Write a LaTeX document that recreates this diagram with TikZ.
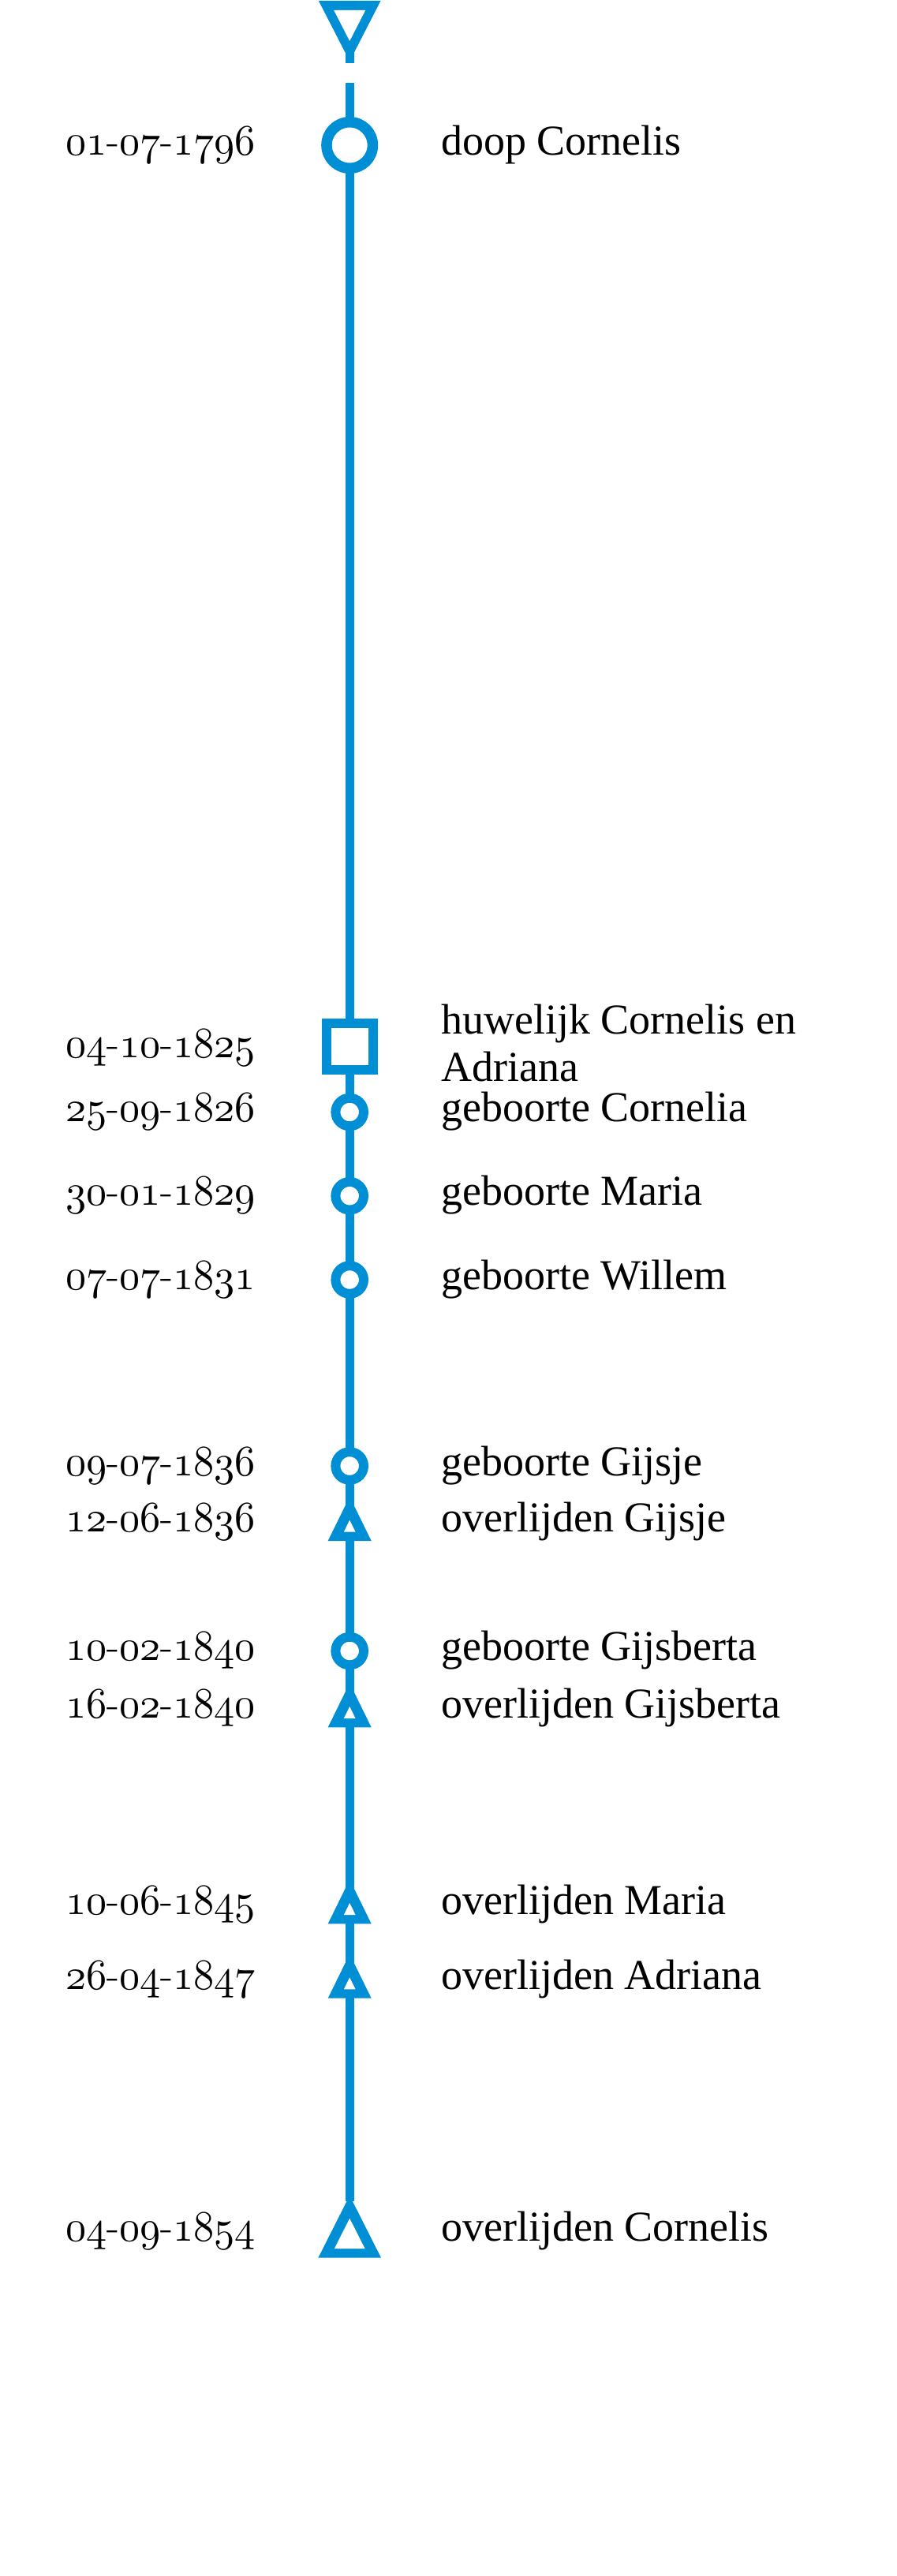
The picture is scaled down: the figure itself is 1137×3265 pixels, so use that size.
\documentclass[tikz,border=0pt]{standalone}
\usepackage{fontspec}
\usetikzlibrary{calc}
\newfontfamily\labelfont{Liberation Serif}
\definecolor{tlblue}{HTML}{008FD5}
\font\osfont=cmmi10 at 55pt
\newcommand\os[1]{{\osfont #1}}
\newcommand\dtxt[3]{\scalebox{0.95}[1]{\os{#1}-\os{#2}-\os{#3}}}
\tikzset{
  tl/.style={draw=tlblue, line width=11.3pt},
  bigdot/.style={draw=tlblue, fill=white, line width=13.5pt},
  smalldot/.style={draw=tlblue, fill=white, line width=12pt},
  lbl/.style={anchor=base west, inner sep=0pt, font=\labelfont\fontsize{54}{60}\selectfont},
  dat/.style={anchor=base east, inner sep=0pt, font=\fontsize{55}{64}\selectfont},
  uptri/.pic={
    \fill[tlblue] (-27.5,0) -- (27.5,0) -- (0,-56) -- cycle;
    \fill[white] (-7.4,-11.3) -- (7.4,-11.3) -- (0,-26.3) -- cycle;
  },
  bigtri/.pic={
    \fill[tlblue] (-39.85,0) -- (39.85,0) -- (0,-78.9) -- cycle;
    \fill[white] (-19.35,-11.7) -- (19.35,-11.7) -- (0,-50) -- cycle;
  },
  downtri/.pic={
    \fill[tlblue] (-39.3,0) -- (39.3,0) -- (0,76.6) -- cycle;
    \fill[white] (-20,12) -- (20,12) -- (0,51) -- cycle;
  }
}
\begin{document}
\begin{tikzpicture}[x=1pt,y=-1pt]
\useasboundingbox (0,0) rectangle (1137,3265);
% event positions
\coordinate (top) at (443.2,1);
\coordinate (stemend) at (443.2,80);
\coordinate (start) at (443.2,105);
\coordinate (e1) at (443.2,184);
\coordinate (e2) at (443.2,1326.3);
\coordinate (e3) at (443.2,1409.5);
\coordinate (e4) at (443.2,1515.7);
\coordinate (e5) at (443.2,1622);
\coordinate (e6) at (443.2,1858);
\coordinate (e7) at (443.2,1953);
\coordinate (e8) at (443.2,2092.5);
\coordinate (e9) at (443.2,2189.3);
\coordinate (e10) at (443.2,2438.3);
\coordinate (e11) at (443.2,2532.7);
\coordinate (e12) at (443.2,2861.7);
\coordinate (e12apex) at (443.2,2790);
% connectors
\draw[tl] (top) -- (stemend);
\draw[tl] (start) -- (e1) -- (e2) -- (e3) -- (e4) -- (e5) -- (e6) -- (e7) -- (e8) -- (e9) -- (e10) -- (e11) -- (e12apex);
% symbols
\pic at (top) {downtri};
\draw[bigdot] (e1) circle (29.25);
\draw[tlblue, fill=white, line width=12.2pt] ($(e2)+(-29.4,-29.4)$) rectangle ($(e2)+(29.4,29.4)$);
\draw[smalldot] (e3) circle (17.8);
\draw[smalldot] (e4) circle (17.8);
\draw[smalldot] (e5) circle (17.8);
\draw[smalldot] (e6) circle (17.8);
\pic at (e7) {uptri};
\draw[smalldot] (e8) circle (17.8);
\pic at (e9) {uptri};
\pic at (e10) {uptri};
\pic at (e11) {uptri};
\pic at (e12) {bigtri};
% dates
\node[dat] (d1) at (324,196.7) {\dtxt{01}{07}{1796}};
\node[dat] (d2) at (324,1340) {\dtxt{04}{10}{1825}};
\node[dat] (d3) at (324,1421.5) {\dtxt{25}{09}{1826}};
\node[dat] (d4) at (324,1527.7) {\dtxt{30}{01}{1829}};
\node[dat] (d5) at (324,1634) {\dtxt{07}{07}{1831}};
\node[dat] (d6) at (324,1870) {\dtxt{09}{07}{1836}};
\node[dat] (d7) at (324,1941.5) {\dtxt{12}{06}{1836}};
\node[dat] (d8) at (324,2104.5) {\dtxt{10}{02}{1840}};
\node[dat] (d9) at (324,2177.8) {\dtxt{16}{02}{1840}};
\node[dat] (d10) at (324,2426.8) {\dtxt{10}{06}{1845}};
\node[dat] (d11) at (324,2521.2) {\dtxt{26}{04}{1847}};
\node[dat] (d12) at (324,2840) {\dtxt{04}{09}{1854}};
% labels
\node[lbl] (l1) at (559,196.7) {doop Cornelis};
\node[lbl] (l2a) at (559,1310) {huwelijk Cornelis en};
\node[lbl] (l2b) at (559,1370) {Adriana};
\node[lbl] (l3) at (559,1421.5) {geboorte Cornelia};
\node[lbl] (l4) at (559,1527.7) {geboorte Maria};
\node[lbl] (l5) at (559,1634) {geboorte Willem};
\node[lbl] (l6) at (559,1870) {geboorte Gijsje};
\node[lbl] (l7) at (559,1941.5) {overlijden Gijsje};
\node[lbl] (l8) at (559,2104.5) {geboorte Gijsberta};
\node[lbl] (l9) at (559,2177.8) {overlijden Gijsberta};
\node[lbl] (l10) at (559,2426.8) {overlijden Maria};
\node[lbl] (l11) at (559,2521.2) {overlijden Adriana};
\node[lbl] (l12) at (559,2840) {overlijden Cornelis};
\end{tikzpicture}
\end{document}
